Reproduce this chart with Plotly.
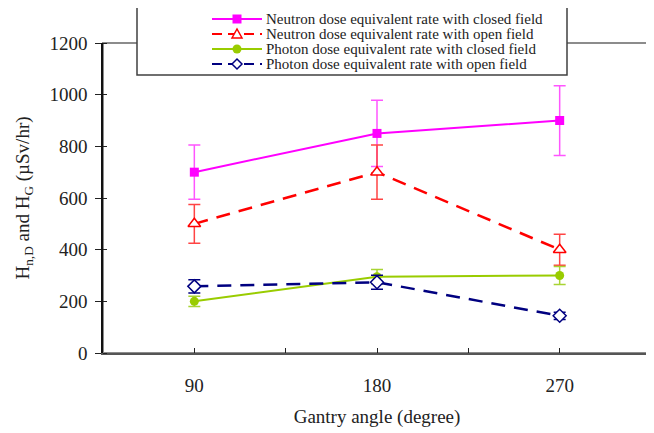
import plotly.graph_objects as go

angles = [90, 180, 270]

neutron_closed = [700, 850, 900]
neutron_closed_err = [105, 128, 135]

neutron_open = [500, 700, 400]
neutron_open_err = [75, 105, 60]

photon_closed = [200, 295, 300]
photon_closed_err = [20, 28, 35]

photon_open = [258, 274, 144]
photon_open_err = [26, 27, 14]

names = [
    "Neutron dose equivalent rate with closed field",
    "Neutron dose equivalent rate with open field",
    "Photon dose equivalent rate with closed field",
    "Photon dose equivalent rate with open field",
]
colors = ["#FF00FF", "#FF0000", "#99CC00", "#000080"]

x_tickvals = [90, 180, 270]
y_tickvals = [0, 200, 400, 600, 800, 1000, 1200]

FONT = "Liberation Serif"

# page offset (browser body margin) and plot area geometry in window pixels
OFF = 8
FW, FH = 654 - OFF, 433 - OFF
L, R, T, B = 103, 651, 43, 353
W, H = R - L, B - T


def px(x):
    return (x - L) / W


def py(y):
    return (B - y) / H


fig = go.Figure()

fig.add_trace(go.Scatter(
    x=angles, y=neutron_closed, name=names[0], mode="lines+markers",
    line=dict(color=colors[0], width=2),
    marker=dict(symbol="square", size=9, color=colors[0]),
    error_y=dict(type="data", array=neutron_closed_err, color="#FF55FF", thickness=1.5, width=6),
))
fig.add_trace(go.Scatter(
    x=angles, y=neutron_open, name=names[1], mode="lines+markers",
    line=dict(color=colors[1], width=2.5, dash="14px,9px"),
    marker=dict(symbol="triangle-up", size=11, color="white", line=dict(width=1.5, color=colors[1])),
    error_y=dict(type="data", array=neutron_open_err, color="#FF4444", thickness=1.5, width=6),
))
fig.add_trace(go.Scatter(
    x=angles, y=photon_closed, name=names[2], mode="lines+markers",
    line=dict(color=colors[2], width=2),
    marker=dict(symbol="circle", size=9, color=colors[2]),
    error_y=dict(type="data", array=photon_closed_err, color="#A8D433", thickness=1.5, width=6),
))
fig.add_trace(go.Scatter(
    x=angles, y=photon_open, name=names[3], mode="lines+markers",
    line=dict(color=colors[3], width=2.5, dash="14px,9px"),
    marker=dict(symbol="diamond", size=10, color="white", line=dict(width=1.5, color=colors[3])),
    error_y=dict(type="data", array=photon_open_err, color=colors[3], thickness=1.5, width=6),
))

# plot-area frame (gray top/right border)
fig.add_shape(type="rect", xref="paper", yref="paper", x0=0, y0=0, x1=1, y1=1,
              line=dict(color="#8C8C8C", width=2), layer="below")

# legend box
fig.add_shape(type="rect", xref="paper", yref="paper",
              x0=px(137), x1=px(567), y0=py(75), y1=py(5),
              line=dict(color="#404040", width=1.5), fillcolor="white", layer="above")

rows = [19, 34, 49, 64]
dashes = ["solid", "10px,6px", "solid", "10px,6px"]
for i, (name, col, yy, dsh) in enumerate(zip(names, colors, rows, dashes)):
    fig.add_shape(type="line", xref="paper", yref="paper",
                  x0=px(212), x1=px(262), y0=py(yy), y1=py(yy),
                  line=dict(color=col, width=2, dash=dsh), layer="above")
    cx = 237
    if i == 0:
        fig.add_shape(type="rect", xref="paper", yref="paper",
                      x0=px(cx - 4.5), x1=px(cx + 4.5), y0=py(yy + 4.5), y1=py(yy - 4.5),
                      line=dict(color=col, width=0), fillcolor=col, layer="above")
    elif i == 1:
        path = "M {},{} L {},{} L {},{} Z".format(
            px(cx - 5), py(yy + 4), px(cx + 5), py(yy + 4), px(cx), py(yy - 5))
        fig.add_shape(type="path", xref="paper", yref="paper", path=path,
                      line=dict(color=col, width=1.5), fillcolor="white", layer="above")
    elif i == 2:
        fig.add_shape(type="circle", xref="paper", yref="paper",
                      x0=px(cx - 4.5), x1=px(cx + 4.5), y0=py(yy + 4.5), y1=py(yy - 4.5),
                      line=dict(color=col, width=0), fillcolor=col, layer="above")
    else:
        path = "M {},{} L {},{} L {},{} L {},{} Z".format(
            px(cx - 5), py(yy), px(cx), py(yy - 5), px(cx + 5), py(yy), px(cx), py(yy + 5))
        fig.add_shape(type="path", xref="paper", yref="paper", path=path,
                      line=dict(color=col, width=1.5), fillcolor="white", layer="above")
    fig.add_annotation(x=px(264), y=py(yy), xref="paper", yref="paper",
                       xanchor="left", yanchor="middle", showarrow=False,
                       text=name, font=dict(family=FONT, size=15, color="#222222"))

fig.update_layout(
    width=FW, height=FH,
    margin=dict(l=L - OFF, r=FW - (R - OFF), t=T - OFF, b=FH - (B - OFF), autoexpand=False),
    paper_bgcolor="white", plot_bgcolor="white",
    font=dict(family=FONT, size=19, color="#222222"),
    showlegend=False,
    xaxis=dict(
        range=[45, 315], tickvals=x_tickvals,
        ticks="inside", ticklen=5, tickcolor="#222222", tickwidth=1,
        minor=dict(dtick=45, tick0=45, ticks="inside", ticklen=5, tickcolor="#222222", tickwidth=1),
        ticklabelstandoff=14,
        showline=True, linecolor="#555555", linewidth=2,
        showgrid=False, zeroline=False,
        title=dict(text="Gantry angle (degree)", font=dict(family=FONT, size=19), standoff=15),
    ),
    yaxis=dict(
        range=[0, 1200], tickvals=y_tickvals,
        ticks="outside", ticklen=6, tickcolor="#222222", tickwidth=1,
        minor=dict(dtick=200, tick0=0, ticks="inside", ticklen=4, tickcolor="#222222", tickwidth=1),
        ticklabelstandoff=4,
        showline=True, linecolor="#111111", linewidth=1.5,
        showgrid=False, zeroline=False,
        title=dict(text="H<sub>n,D</sub> and H<sub>G</sub> (µSv/hr)", font=dict(family=FONT, size=19), standoff=15),
    ),
)

fig.write_html("out.html")
